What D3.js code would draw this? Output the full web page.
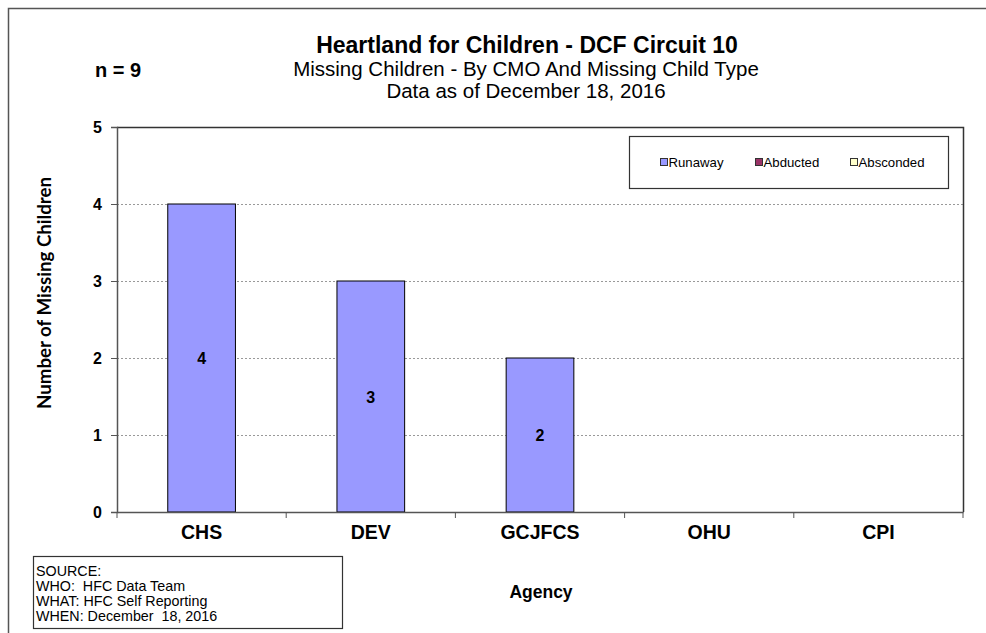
<!DOCTYPE html>
<html><head><meta charset="utf-8">
<script src="https://cdn.jsdelivr.net/npm/d3@7"></script>
<style>body{margin:0;background:#fff}svg{display:block}</style>
</head><body>
<script>
const categories = ["CHS","DEV","GCJFCS","OHU","CPI"];
const runaway = [4,3,2,0,0];
const abducted = [0,0,0,0,0];
const absconded = [0,0,0,0,0];
const yTicks = [0,1,2,3,4,5];
const seriesNames = ["Runaway","Abducted","Absconded"];
const seriesColors = ["#9999FF","#993366","#FFFFCC"];
const sourceLines = ["SOURCE:","WHO:  HFC Data Team","WHAT: HFC Self Reporting","WHEN: December  18, 2016"];

const W=986,H=633;
const svg=d3.select("body").append("svg").attr("width",W).attr("height",H);
const F="'Liberation Sans',Arial,sans-serif";

// outer border
svg.append("rect").attr("x",8.5).attr("y",8.5).attr("width",W+20).attr("height",H+20)
  .attr("fill","none").attr("stroke","#555").attr("stroke-width",1.5);

const L=117,R=963,T=127,B=512;
const x=d3.scaleBand().domain(categories).range([L,R]).paddingInner(0).paddingOuter(0);
const y=d3.scaleLinear().domain([0,5]).range([B,T]);

// gridlines
svg.append("g").selectAll("line").data(yTicks.filter(d=>d>0&&d<5)).join("line")
  .attr("x1",L).attr("x2",R).attr("y1",d=>y(d)+0.5).attr("y2",d=>y(d)+0.5)
  .attr("stroke","#999").attr("stroke-dasharray","2,2").attr("stroke-width",1);

// plot frame top/right
svg.append("path").attr("d",`M${L},${T+0.5}H${R+0.5}V${B}`).attr("fill","none").attr("stroke","#333").attr("stroke-width",1.5);

// bars
const bw=x.bandwidth()*0.4;
const bars=svg.append("g");
const stacks=categories.map((c,i)=>[runaway[i],abducted[i],absconded[i]]);
categories.forEach((c,i)=>{
  let base=0;
  stacks[i].forEach((v,k)=>{
    if(v>0){
      bars.append("rect").attr("x",x(c)+(x.bandwidth()-bw)/2).attr("width",bw)
        .attr("y",y(base+v)).attr("height",y(base)-y(base+v))
        .attr("fill",seriesColors[k]).attr("stroke","#000").attr("stroke-width",1);
      bars.append("text").attr("x",x(c)+x.bandwidth()/2).attr("y",(y(base)+y(base+v))/2+6)
        .attr("text-anchor","middle").attr("font-family",F).attr("font-weight","bold")
        .attr("font-size",16).text(v);
    }
    base+=v;
  });
});

// y axis
const ya=svg.append("g").attr("transform",`translate(${L},0)`)
  .call(d3.axisLeft(y).tickValues(yTicks).tickSize(6).tickPadding(9).tickFormat(d3.format("d")));
ya.select(".domain").attr("stroke","#555").attr("stroke-width",1.5);
ya.selectAll(".tick line").attr("stroke","#555");
ya.selectAll("text").attr("font-family",F).attr("font-weight","bold").attr("font-size",16).attr("fill","#000");

// x axis
const xa=svg.append("g").attr("transform",`translate(0,${B})`)
  .call(d3.axisBottom(x).tickSize(0).tickPadding(13));
xa.select(".domain").attr("stroke","#555").attr("stroke-width",1.5);
xa.selectAll("text").attr("font-family",F).attr("font-weight","bold").attr("font-size",19.5).attr("fill","#000");
xa.selectAll(".sep").data(categories.concat(["_end"])).join("line").attr("class","sep")
  .attr("x1",(d,i)=>L+i*x.bandwidth()).attr("x2",(d,i)=>L+i*x.bandwidth())
  .attr("y1",0).attr("y2",6).attr("stroke","#555");

// titles
svg.append("text").attr("x",527).attr("y",53).attr("text-anchor","middle").attr("font-family",F)
  .attr("font-weight","bold").attr("font-size",23).text("Heartland for Children - DCF Circuit 10");
svg.append("text").attr("x",526).attr("y",76).attr("text-anchor","middle").attr("font-family",F)
  .attr("font-size",20.5).text("Missing Children - By CMO And Missing Child Type");
svg.append("text").attr("x",526).attr("y",98).attr("text-anchor","middle").attr("font-family",F)
  .attr("font-size",20.5).text("Data as of December 18, 2016");
svg.append("text").attr("x",95).attr("y",77).attr("font-family",F).attr("font-weight","bold")
  .attr("font-size",20).text("n = 9");

// axis titles
svg.append("text").attr("transform","translate(51,293) rotate(-90)").attr("text-anchor","middle")
  .attr("font-family","Lato,'Open Sans',sans-serif").attr("font-weight","bold").attr("font-size",18.7).text("Number of Missing Children");
svg.append("text").attr("x",541).attr("y",598).attr("text-anchor","middle").attr("font-family",F)
  .attr("font-weight","bold").attr("font-size",17.5).text("Agency");

// legend
svg.append("rect").attr("x",629.5).attr("y",136.5).attr("width",319).attr("height",52)
  .attr("fill","#fff").attr("stroke","#333").attr("stroke-width",1.2);
const lx=[660,755,850];
seriesNames.forEach((n,k)=>{
  svg.append("rect").attr("x",lx[k]+0.5).attr("y",158.5).attr("width",7).attr("height",7)
    .attr("fill",seriesColors[k]).attr("stroke","#333").attr("stroke-width",1);
  svg.append("text").attr("x",lx[k]+8.5).attr("y",167).attr("font-family",F).attr("font-size",13.2).text(n);
});

// source box
svg.append("rect").attr("x",33.5).attr("y",556.5).attr("width",309).attr("height",72)
  .attr("fill","#fff").attr("stroke","#333").attr("stroke-width",1.2);
sourceLines.forEach((s,i)=>{
  svg.append("text").attr("x",36).attr("y",576+i*15).attr("font-family",F).attr("font-size",14.3)
    .attr("xml:space","preserve").style("white-space","pre").text(s);
});
</script>
</body></html>
